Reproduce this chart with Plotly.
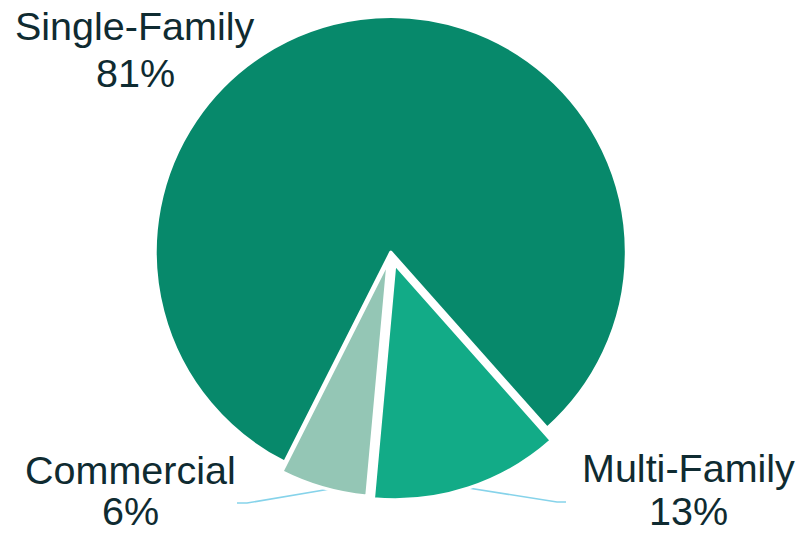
import plotly.graph_objects as go

# Data
categories = ["Single-Family", "Multi-Family", "Commercial"]
shares = [81, 13, 6]
slice_colors = ["#07896b", "#12ab87", "#94c6b5"]
pulls = [0, 0.055, 0.042]

W, H = 799, 534
def px(x):
    return x / W
def py(y):
    return 1 - y / H

# pie geometry (pixels)
cx, cy, r = 390.8, 252.0, 235.5
half = r * (1 + max(pulls))

fig = go.Figure(go.Pie(
    labels=categories,
    values=shares,
    sort=False,
    direction="clockwise",
    rotation=206.8,
    pull=pulls,
    textinfo="none",
    hoverinfo="label+percent",
    marker=dict(colors=slice_colors, line=dict(color="white", width=3)),
    domain=dict(x=[px(cx - half), px(cx + half)], y=[py(cy + half), py(cy - half)]),
    showlegend=False,
))

# label positions (pixel centres of the two text lines)
label_pos = {
    "Single-Family": (135, 26, 72.5),
    "Multi-Family": (688, 468, 511),
    "Commercial": (130, 470, 511),
}
font = dict(family="Arial, Liberation Sans, sans-serif", size=39.5, color="#0f2b31")
annotations = []
for cat, val in zip(categories, shares):
    x, y1, y2 = label_pos[cat]
    annotations.append(dict(x=px(x), y=py(y1), xref="paper", yref="paper", text=cat,
                            showarrow=False, xanchor="center", yanchor="middle", font=font))
    annotations.append(dict(x=px(x), y=py(y2), xref="paper", yref="paper", text=f"{val}%",
                            showarrow=False, xanchor="center", yanchor="middle", font=font))

def path(points):
    return "M " + " L ".join(f"{px(a)},{py(b)}" for a, b in points)

leader = dict(color="#86d3ea", width=1.6)
shapes = [
    dict(type="path", xref="paper", yref="paper", layer="below", line=leader,
         path=path([(237, 503), (247, 503), (330, 489)])),
    dict(type="path", xref="paper", yref="paper", layer="below", line=leader,
         path=path([(462, 487), (557, 502), (566, 502)])),
]

fig.update_layout(
    width=W, height=H,
    margin=dict(l=0, r=0, t=0, b=0),
    paper_bgcolor="white",
    plot_bgcolor="white",
    annotations=annotations,
    shapes=shapes,
)

fig.write_html("out.html", config={"displayModeBar": False},
               post_script="document.body.style.margin='0';")
